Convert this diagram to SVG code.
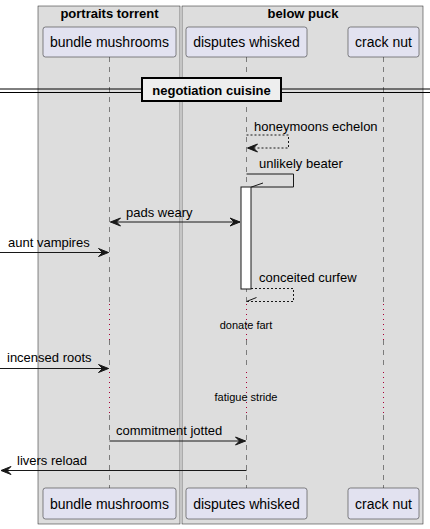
<svg xmlns="http://www.w3.org/2000/svg" width="430" height="529" viewBox="0 0 430 529">
<style>
text{font-family:"Liberation Sans",Arial,sans-serif;font-size:13px;fill:#000}
.b{font-weight:bold}
.s{font-size:11px}
.p{font-size:14px}
.grp{fill:#DDDDDD;stroke:#181818;stroke-width:0.5}
.part{fill:#E2E2F0;stroke:#181818;stroke-width:0.5}
.life{stroke:#181818;stroke-width:0.5;stroke-dasharray:5,5;fill:none}
.delay{stroke:#A80036;stroke-width:1;stroke-dasharray:1,4;fill:none}
.msg{stroke:#181818;stroke-width:1;fill:none}
.dash{stroke-dasharray:2,2}
.head{fill:#181818;stroke:#181818;stroke-width:1}
</style>
<rect width="430" height="529" fill="#FFFFFF"/>
<g id="group-portraits-torrent">
<rect class="grp" x="38" y="6" width="142" height="518"/>
<text class="b" x="109.5" y="18" text-anchor="middle">portraits torrent</text>
</g>
<g id="group-below-puck">
<rect class="grp" x="182" y="6" width="241" height="518"/>
<text class="b" x="303" y="18" text-anchor="middle">below puck</text>
</g>
<g id="lifelines">
<path class="life" d="M109.5,57V302M109.5,340V370M109.5,415V488"/>
<path class="life" d="M246.5,57V302M246.5,340V370M246.5,415V488"/>
<path class="life" d="M383.5,57V302M383.5,340V370M383.5,415V488"/>
<path class="delay" d="M109.5,304V342M109.5,372V414"/>
<path class="delay" d="M246.5,304V342M246.5,372V414"/>
<path class="delay" d="M383.5,304V342M383.5,372V414"/>
</g>
<g id="bundle-mushrooms">
<rect class="part" x="43" y="27" width="133" height="30" rx="2.5"/>
<text class="p" x="109.5" y="47" text-anchor="middle">bundle mushrooms</text>
<rect class="part" x="43" y="488" width="133" height="31" rx="2.5"/>
<text class="p" x="109.5" y="509" text-anchor="middle">bundle mushrooms</text>
</g>
<g id="disputes-whisked">
<rect class="part" x="186" y="27" width="121" height="30" rx="2.5"/>
<text class="p" x="246.5" y="47" text-anchor="middle">disputes whisked</text>
<rect class="part" x="186" y="488" width="121" height="31" rx="2.5"/>
<text class="p" x="246.5" y="509" text-anchor="middle">disputes whisked</text>
</g>
<g id="crack-nut">
<rect class="part" x="348" y="27" width="71" height="30" rx="2.5"/>
<text class="p" x="383.5" y="47" text-anchor="middle">crack nut</text>
<rect class="part" x="348" y="488" width="71" height="31" rx="2.5"/>
<text class="p" x="383.5" y="509" text-anchor="middle">crack nut</text>
</g>
<g id="divider">
<path d="M0,89H430M0,92.5H430" stroke="#000" stroke-width="1" fill="none"/>
<rect x="142" y="78" width="139" height="23" fill="#EEEEEE" stroke="#000" stroke-width="2"/>
<text class="b" x="211.5" y="95" text-anchor="middle">negotiation cuisine</text>
</g>
<g id="activation">
<rect x="241" y="187" width="10" height="102" fill="#FFFFFF" stroke="#181818" stroke-width="1"/>
</g>
<g id="connectors">
<path class="msg dash" d="M246.5,135H288.5V148H247.5"/>
<polygon class="head" points="247.5,148 257.5,144 253.5,148 257.5,152"/>
<text x="254" y="131">honeymoons echelon</text>

<path class="msg" d="M246.5,174H293.5V187H251"/>
<path class="msg" d="M251.5,187L263,183"/>
<text x="259" y="168">unlikely beater</text>

<path class="msg" d="M110.5,222H240"/>
<polygon class="head" points="110.5,222 120.5,218 116.5,222 120.5,226"/>
<polygon class="head" points="240,222 230,218 234,222 230,226"/>
<text x="126" y="217">pads weary</text>

<path class="msg" d="M0,252.5H108.5"/>
<polygon class="head" points="108.5,252.5 98.5,248.5 102.5,252.5 98.5,256.5"/>
<text x="8" y="247">aunt vampires</text>

<path class="msg dash" d="M251,288.5H293.5V301.5H246.5"/>
<path class="msg" d="M246.5,301.5L256.5,297.5"/>
<text x="259" y="282">conceited curfew</text>

<text class="s" x="246" y="329" text-anchor="middle">donate fart</text>

<path class="msg" d="M0,368.5H108.5"/>
<polygon class="head" points="108.5,368.5 98.5,364.5 102.5,368.5 98.5,372.5"/>
<text x="7" y="362">incensed roots</text>

<text class="s" x="246" y="401" text-anchor="middle">fatigue stride</text>

<path class="msg" d="M109.5,441H245.5"/>
<polygon class="head" points="245.5,441 235.5,437 239.5,441 235.5,445"/>
<text x="116" y="435">commitment jotted</text>

<path class="msg" d="M246.5,470.5H1"/>
<polygon class="head" points="1,470.5 11,466.5 7,470.5 11,474.5"/>
<text x="17" y="465">livers reload</text>
</g>
</svg>
